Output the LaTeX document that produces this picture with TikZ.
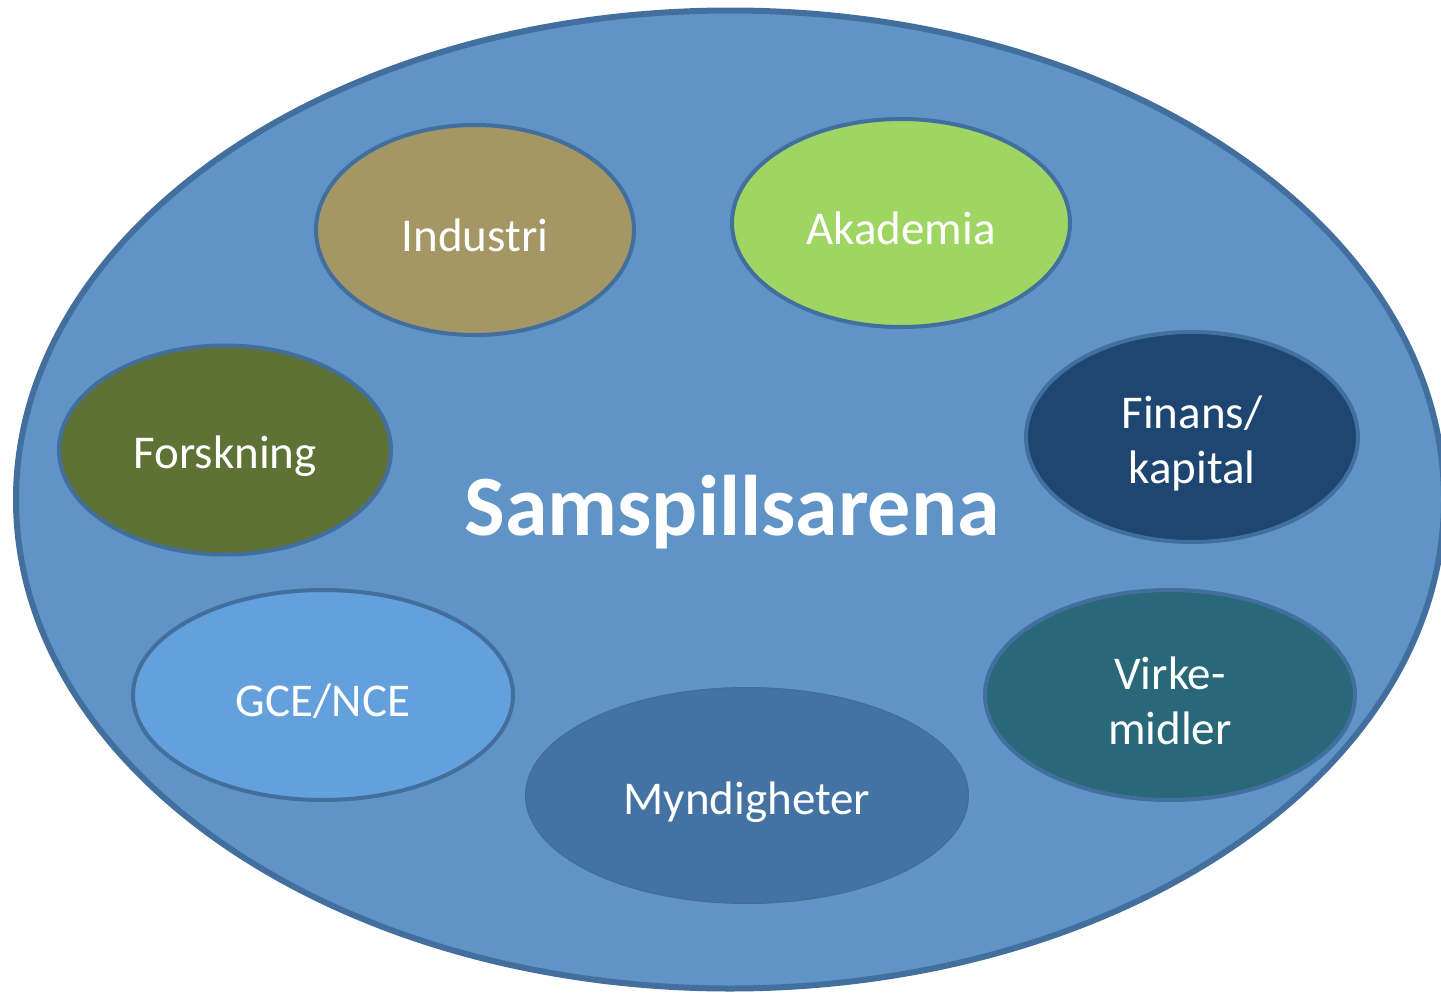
\documentclass[tikz,border=0pt]{standalone}
\usepackage{fontspec}
\setmainfont{Carlito}
\usetikzlibrary{shapes.geometric}
\definecolor{arena}{RGB}{96,148,199}
\definecolor{rim}{RGB}{66,111,157}
\definecolor{cIndustri}{RGB}{165,151,101}
\definecolor{cAkademia}{RGB}{159,213,99}
\definecolor{cForskning}{RGB}{94,114,54}
\definecolor{cFinans}{RGB}{30,70,112}
\definecolor{cGCE}{RGB}{99,160,220}
\definecolor{cVirke}{RGB}{40,104,120}
\definecolor{cMynd}{RGB}{68,114,163}
\tikzset{
  blob/.style={ellipse, draw=rim, line width=4pt, inner sep=0pt},
  lbl/.style={inner sep=0pt, align=center, text=white, font=\fontsize{47}{55}\selectfont},
}
\begin{document}
\begin{tikzpicture}[x=1pt,y=-1pt]
\useasboundingbox (0,0) rectangle (1441,993);
\node[ellipse, draw=rim, fill=arena, line width=6pt, inner sep=0pt,
  minimum width=1428pt, minimum height=978pt] (arena) at (730,499.5) {};
\node[blob, fill=cIndustri, minimum width=318pt, minimum height=210pt] (industri) at (475,230) {};
\node[blob, fill=cAkademia, minimum width=338pt, minimum height=208pt] (akademia) at (901,223) {};
\node[blob, fill=cForskning, minimum width=332pt, minimum height=209pt] (forskning) at (225,450) {};
\node[blob, fill=cFinans, minimum width=332pt, minimum height=210pt] (finans) at (1192,437) {};
\node[blob, fill=cGCE, minimum width=380pt, minimum height=210pt] (gce) at (323,695) {};
\node[blob, fill=cVirke, minimum width=370pt, minimum height=210pt] (virke) at (1170,695) {};
\node[blob, fill=cMynd, draw=cMynd!95!black, line width=1pt, minimum width=443pt, minimum height=216pt] (mynd) at (747,795.5) {};
\node[lbl] (industri-t) at ([yshift=-5pt]industri.center) {Industri};
\node[lbl] (akademia-t) at ([yshift=-5pt]akademia.center) {Akademia};
\node[lbl] (forskning-t) at ([yshift=-6pt]forskning.center) {Forskning};
\node[lbl] (finans-t) at ([yshift=-6pt]finans.center) {Finans/\\kapital};
\node[lbl] (gce-t) at ([yshift=-6pt]gce.center) {GCE/NCE};
\node[lbl] (virke-t) at ([yshift=-6pt]virke.center) {Virke-\\midler};
\node[lbl] (mynd-t) at ([yshift=-7pt]mynd.center) {Myndigheter};
\node[text=white, font=\bfseries\fontsize{86}{100}\selectfont, inner sep=0pt] (title) at (732,512) {Samspillsarena};
\end{tikzpicture}
\end{document}
